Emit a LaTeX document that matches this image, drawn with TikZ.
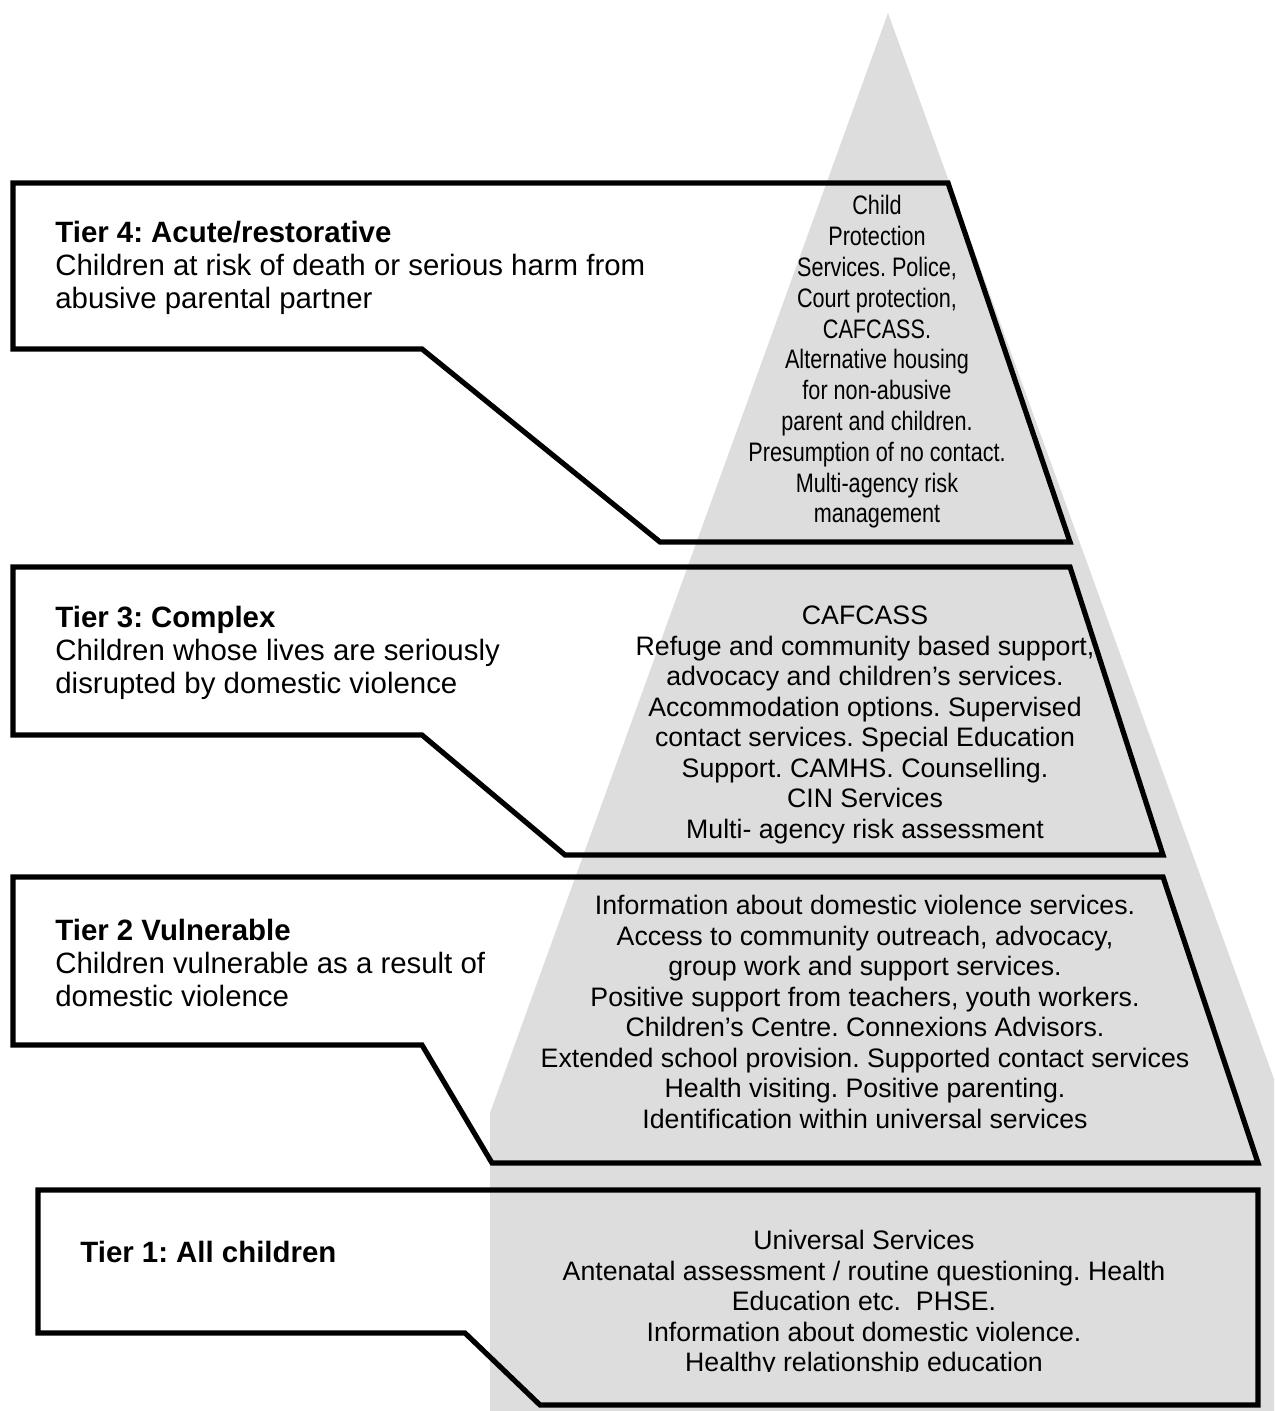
\documentclass[tikz,border=0pt]{standalone}
\usepackage{fontspec}
\setmainfont{Liberation Sans}
\newfontfamily\narrowfont[FakeStretch=0.81]{Liberation Sans}
\definecolor{pyramidgray}{HTML}{DDDDDD}
\frenchspacing

\begin{document}
\begin{tikzpicture}[x=0.5pt,y=-0.5pt]
  \tikzset{PyramidStyle/.style = {
    fill          = pyramidgray,
    draw          = none
    }
  }
  \tikzset{TierBoxStyle/.style = {
    draw          = black,
    line width    = 2.6pt,
    line join     = miter
    }
  }
  \tikzset{TierTextStyle/.style = {
    anchor        = west,
    align         = left,
    inner sep     = 0pt,
    text          = black,
    font          = \fontsize{14.7}{16.5}\selectfont
    }
  }
  \tikzset{ServiceTextStyle/.style = {
    anchor        = center,
    align         = center,
    inner sep     = 0pt,
    text          = black,
    font          = \fontsize{13.35}{15.25}\selectfont
    }
  }

  \useasboundingbox (0,0) rectangle (1274,1411);

  % grey pyramid behind the tiers
  \fill[PyramidStyle] (888,13) -- (490,1113) -- (490,1411) -- (1274,1411) -- (1274,1079) -- cycle;

  % tier outlines
  \draw[TierBoxStyle] (13,183) -- (948,183) -- (1070,542) -- (660,542) -- (422,349) -- (13,349) -- cycle;
  \draw[TierBoxStyle] (13,567) -- (1070,567) -- (1163,855) -- (565,855) -- (422,735) -- (13,735) -- cycle;
  \draw[TierBoxStyle] (13,877) -- (1163,877) -- (1258,1163) -- (492,1163) -- (422,1045) -- (13,1045) -- cycle;
  \draw[TierBoxStyle] (38,1190) -- (1258,1190) -- (1258,1405) -- (540,1405) -- (465,1333) -- (38,1333) -- cycle;

  % tier descriptions
  \node[TierTextStyle](T4) at (55,268) {\textbf{Tier 4: Acute/restorative}\\Children at risk of death or serious harm from\\abusive parental partner};
  \node[TierTextStyle](T3) at (55,653) {\textbf{Tier 3: Complex}\\Children whose lives are seriously\\disrupted by domestic violence};
  \node[TierTextStyle](T2) at (55,963) {\textbf{Tier 2 Vulnerable}\\Children vulnerable as a result of\\domestic violence};
  \node[TierTextStyle](T1) at (80,1252) {\textbf{Tier 1: All children}};

  % services
  \node[ServiceTextStyle, font=\fontsize{13.35}{15.4}\selectfont\narrowfont](S4) at (877,362) {Child\\Protection\\Services. Police,\\Court protection,\\CAFCASS.\\Alternative housing\\for non-abusive\\parent and children.\\Presumption of no contact.\\Multi-agency risk\\management};
  \node[ServiceTextStyle](S3) at (865,725) {CAFCASS\\Refuge and community based support,\\advocacy and children’s services.\\Accommodation options. Supervised\\contact services. Special Education\\Support. CAMHS. Counselling.\\CIN Services\\Multi- agency risk assessment};
  \node[ServiceTextStyle](S2) at (865,1012) {Information about domestic violence services.\\Access to community outreach, advocacy,\\group work and support services.\\Positive support from teachers, youth workers.\\Children’s Centre. Connexions Advisors.\\Extended school provision. Supported contact services\\Health visiting. Positive parenting.\\Identification within universal services};
  \begin{scope}
    \clip (495,1200) rectangle (1250,1371);
    \node[ServiceTextStyle](S1) at (864,1304) {Universal Services\\Antenatal assessment / routine questioning. Health\\Education etc.~~PHSE.\\Information about domestic violence.\\Healthy relationship education};
  \end{scope}

\end{tikzpicture}
\end{document}
